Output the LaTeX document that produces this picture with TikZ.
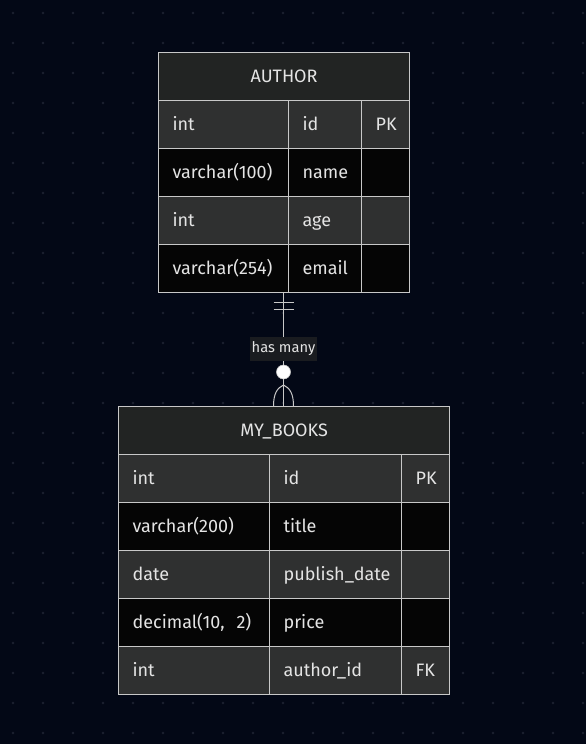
\documentclass[tikz,border=0pt]{standalone}
\usepackage{fontspec}
\setmainfont{Fira Sans}
\definecolor{bgc}{HTML}{030816}
\definecolor{dotc}{HTML}{1C2130}
\definecolor{hdrc}{HTML}{222423}
\definecolor{lightrow}{HTML}{2F3030}
\definecolor{darkrow}{HTML}{050505}
\definecolor{bordc}{HTML}{C8C8C8}
\definecolor{txtc}{HTML}{E4E4E4}
\definecolor{lblbg}{HTML}{1A1C20}
\tikzset{
  cellbase/.style={draw=bordc, line width=1.2pt, inner ysep=0pt, anchor=north west,
    minimum height=48pt, text=txtc, font=\fontsize{18}{21}\selectfont,
    text height=13pt, text depth=2pt},
  hdr/.style={cellbase, fill=hdrc, align=center, inner xsep=0pt},
  lcell/.style={cellbase, fill=lightrow, align=left, inner xsep=14pt},
  dcell/.style={cellbase, fill=darkrow, align=left, inner xsep=14pt},
  conn/.style={draw=bordc, line width=1pt},
  relbox/.style={fill=lblbg, text=txtc, font=\fontsize{14.7}{17}\selectfont, inner xsep=1.5pt, inner ysep=5pt}
}
\begin{document}
\begin{tikzpicture}[x=1pt,y=-1pt]
\fill[bgc] (0,0) rectangle (586,744);
\useasboundingbox (0,0) rectangle (586,744);
\foreach \i in {0,...,19}{\foreach \j in {0,...,24}{\fill[dotc] (13+30*\i,13+30*\j) circle (1.4pt);}}
% AUTHOR table
\node[hdr, minimum width=251pt, text width=251pt] (aH) at (158,52) {AUTHOR};
\foreach \r/\st/\ta/\tb/\tc in {1/lcell/int/id/PK, 2/dcell/varchar(100)/name/, 3/lcell/int/age/, 4/dcell/varchar(254)/email/}{
  \node[\st, text width=102pt] (a\r t) at (158,52+48*\r) {\ta};
  \node[\st, text width=45pt] (a\r n) at (288,52+48*\r) {\tb};
  \node[\st, text width=20pt] (a\r k) at (361,52+48*\r) {\tc};
}
% MY_BOOKS table
\node[hdr, minimum width=331pt, text width=331pt] (bH) at (118,406) {MY\_BOOKS};
\foreach \r/\st/\ta/\tb/\tc in {1/lcell/int/id/PK, 2/dcell/varchar(200)/title/, 3/lcell/date/publish\_date/, 4/dcell/{decimal(10,\ \ 2)}/price/, 5/lcell/int/author\_id/FK}{
  \node[\st, text width=123pt] (b\r t) at (118,406+48*\r) {\ta};
  \node[\st, text width=104pt] (b\r n) at (269,406+48*\r) {\tb};
  \node[\st, text width=20pt] (b\r k) at (401,406+48*\r) {\tc};
}
% relationship
\coordinate (aBot) at (283.5,292);
\coordinate (bTop) at (283.5,406);
\draw[conn] (aBot) -- (bTop);
\draw[conn] ([xshift=-10pt,yshift=-10pt]aBot) -- ([xshift=10pt,yshift=-10pt]aBot);
\draw[conn] ([xshift=-10pt,yshift=-17pt]aBot) -- ([xshift=10pt,yshift=-17pt]aBot);
\node[relbox] (rel) at (283.5,349) {has many};
\node[circle, fill=white, draw=bordc, line width=0.6pt, minimum size=14pt, inner sep=0pt] (circ) at (283.5,372) {};
\coordinate (cf) at (283.5,385);
\draw[conn] (cf) .. controls (277,388) and (273.5,394) .. ([xshift=-10pt]bTop);
\draw[conn] (cf) .. controls (290,388) and (293.5,394) .. ([xshift=10pt]bTop);
\end{tikzpicture}
\end{document}
